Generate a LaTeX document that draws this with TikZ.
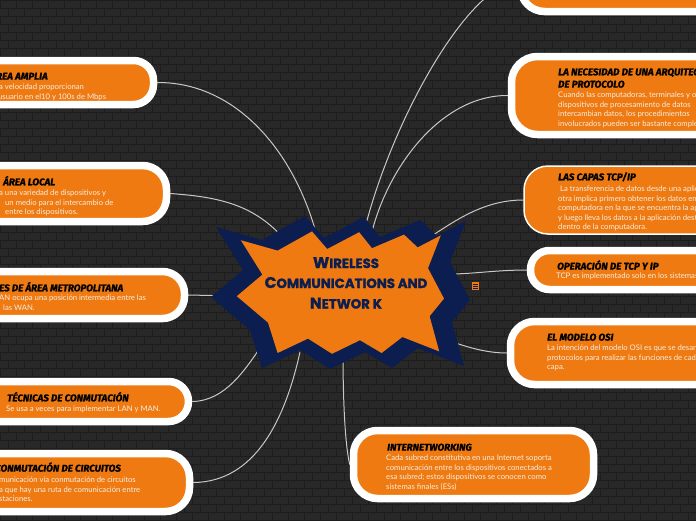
\documentclass[tikz,border=0pt]{standalone}
\usepackage{fontspec}
\setmainfont{Lato}
\newfontfamily\ttlfont{Fira Sans}[BoldItalicFeatures={FakeBold=1.2}]
\newfontfamily\hubfont{Poppins}[BoldFeatures={FakeBold=1.5}]
\definecolor{orng}{HTML}{EE7A11}
\definecolor{navy}{HTML}{0C1D4F}
\definecolor{bgc}{HTML}{282828}
\definecolor{mortar}{HTML}{1D1D1D}
\definecolor{wire}{HTML}{C8C8C8}
\definecolor{bodytxt}{HTML}{F8EEE2}
\pgfdeclarelayer{bg}
\pgfdeclarelayer{lines}
\pgfsetlayers{bg,lines,main}
\newcommand\burstpath{(211,297) -- (243,270) -- (216,227) -- (262,240) -- (305,216) -- (324,238) -- (364,217) -- (380,237) -- (420,220) -- (437,236) -- (466,221) -- (450,262) -- (470,300) -- (452,322) -- (464,366) -- (418,348) -- (392,368) -- (365,352) -- (330,369) -- (300,350) -- (262,368) -- (250,330) -- cycle}
\begin{document}
\begin{tikzpicture}[x=1pt,y=-1pt,
  pill/.style={draw=white,line width=7.5pt,fill=orng,rounded corners=20pt,inner sep=0pt},
  thinpill/.style={draw=white,line width=1.5pt,fill=orng,rounded corners=24pt,inner sep=0pt},
  ttl/.style={font=\ttlfont\bfseries\itshape\fontsize{9.8}{11}\selectfont,text=black,inner sep=0pt,anchor=base west},
  body/.style={font=\fontsize{7.7}{9.5}\selectfont,text=bodytxt,inner sep=0pt,anchor=base west},
  wirestyle/.style={draw=wire,line width=1pt},
  hubtxt/.style={font=\hubfont\bfseries\fontsize{13.3}{16}\selectfont,text=navy,inner sep=0pt,anchor=base}]
\useasboundingbox (0,0) rectangle (696,520);
\begin{pgfonlayer}{bg}
  \fill[bgc] (0,0) rectangle (696,520);
  \draw[mortar,line width=0.9pt] \foreach \r in {0,...,65} {(0,\r*8) -- (696,\r*8)};
  \draw[mortar,line width=0.9pt] \foreach \r in {0,...,64} {\foreach \c in {0,...,44} {({\c*16+mod(\r,2)*8},{\r*8}) -- ++(0,8)}};
\end{pgfonlayer}

% central starburst
\fill[navy] \burstpath;
\begin{scope}[shift={(340,293)},scale=0.8,shift={(-340,-293)}]
  \fill[orng] \burstpath;
\end{scope}
\node[hubtxt] (hub1) at (346,268) {{\fontsize{15.5}{16}\selectfont W}IRELESS};
\node[hubtxt] (hub2) at (346,288) {{\fontsize{15.5}{16}\selectfont C}OMMUNICATIONS AND};
\node[hubtxt] (hub3) at (346,308.5) {{\fontsize{15.5}{16}\selectfont N}ETWOR K};
\node[fill=orng,minimum width=7pt,minimum height=8pt,inner sep=0pt] (icon) at (475.5,286) {};
\draw[navy,line width=0.7pt] (473,284) -- (478,284) (473,286) -- (478,286) (473,288) -- (478,288);

% hub end points
\coordinate (h1) at (318,240);
\coordinate (h2) at (285,240);
\coordinate (h3) at (235,296);
\coordinate (h4) at (262,345);
\coordinate (h5) at (300,352);
\coordinate (hb) at (343,352);
\coordinate (hr0) at (362,240);
\coordinate (hr1) at (370,240);
\coordinate (hr2) at (425,240);
\coordinate (hr3) at (455,274);
\coordinate (hr4) at (425,332);

% pills
\node[pill,minimum width=190pt,minimum height=44pt] (n1) at (58.5,82.5) {};
\node[pill,minimum width=203pt,minimum height=56pt,rounded corners=24pt] (n2) at (65,193.5) {};
\node[pill,minimum width=221pt,minimum height=47pt,rounded corners=22pt] (n3) at (74,295) {};
\node[pill,minimum width=225pt,minimum height=40pt] (n4) at (76,401.5) {};
\node[pill,minimum width=226pt,minimum height=58pt,rounded corners=24pt] (n5) at (76.5,482.5) {};
\node[pill,minimum width=236pt,minimum height=58pt,rounded corners=24pt] (r0) at (638.5,-17.5) {};
\node[pill,minimum width=245pt,minimum height=78pt,rounded corners=26pt] (r1) at (634,95.5) {};
\node[thinpill,minimum width=235pt,minimum height=68pt] (r2) at (641.5,200) {};
\node[pill,minimum width=226pt,minimum height=39pt,rounded corners=19pt] (r3) at (643.5,270) {};
\node[pill,minimum width=246pt,minimum height=63pt,rounded corners=24pt] (r4) at (633.5,353) {};
\node[pill,minimum width=240pt,minimum height=68pt,rounded corners=24pt] (b) at (473.5,464.5) {};

% titles
\node[ttl] (t1) at (-4,79.6) {REA AMPLIA};
\node[ttl] (t2) at (3,185.3) {ÁREA LOCAL};
\node[ttl] (t3) at (-1,291.3) {ES DE ÁREA METROPOLITANA};
\node[ttl] (t4) at (7,401.3) {TÉCNICAS DE CONMUTACIÓN};
\node[ttl] (t5) at (-5,471.6) {CONMUTACIÓN DE CIRCUITOS};
\node[ttl] (tr1a) at (558,75.3) {LA NECESIDAD DE UNA ARQUITECTURA};
\node[ttl] (tr1b) at (558,87.6) {DE PROTOCOLO};
\node[ttl] (tr2) at (558,180.3) {LAS CAPAS TCP/IP};
\node[ttl] (tr3) at (557,269.6) {OPERACIÓN DE TCP Y IP};
\node[ttl] (tr4) at (547,340.6) {EL MODELO OSI};
\node[ttl] (tb) at (387,450.6) {INTERNETWORKING};

% body texts
\node[body] (d1a) at (-1,89.5) {a velocidad proporcionan};
\node[body] (d1b) at (-2,99.2) {usuario en el10 y 100s de Mbps};
\node[body] (d2a) at (-1,195.5) {a una variedad de dispositivos y};
\node[body] (d2b) at (5,205.3) {un medio para el intercambio de};
\node[body] (d2c) at (5,214.8) {entre los dispositivos.};
\node[body] (d3a) at (-1,300.5) {AN ocupa una posición intermedia entre las};
\node[body] (d3b) at (3,310) {las WAN.};
\node[body] (d4a) at (6,411.5) {Se usa a veces para implementar LAN y MAN.};
\foreach \t [count=\i] in {{municación vía conmutación de circuitos},{a que hay una ruta de comunicación entre},{staciones.}}
  \node[body] (d5\i) at (-1,{482.5+(\i-1)*9.5}) {\t};
\foreach \t [count=\i] in {{Cuando las computadoras, terminales y otros},{dispositivos de procesamiento de datos},{intercambian datos, los procedimientos},{involucrados pueden ser bastante complejos.}}
  \node[body] (e1\i) at (558,{97.5+(\i-1)*9.6}) {\t};
\foreach \t [count=\i] in {{\ La transferencia de datos desde una aplicación a},{otra implica primero obtener los datos en la},{computadora en la que se encuentra la aplicación},{y luego lleva los datos a la aplicación destino},{dentro de la computadora.}}
  \node[body] (e2\i) at (558,{191.5+(\i-1)*9.6}) {\t};
\node[body] (e31) at (556,278.5) {TCP es implementado solo en los sistemas finales};
\foreach \t [count=\i] in {{La intención del modelo OSI es que se desarrollen},{protocolos para realizar las funciones de cada},{capa.}}
  \node[body] (e4\i) at (547,{350.5+(\i-1)*9.6}) {\t};
\foreach \t [count=\i] in {{Cada subred constitutiva en una Internet soporta},{comunicación entre los dispositivos conectados a},{esa subred; estos dispositivos se conocen como},{sistemas finales (ESs)}}
  \node[body] (f\i) at (386,{460.5+(\i-1)*9.5}) {\t};

% connectors
\begin{pgfonlayer}{lines}
  \draw[wirestyle] (n1.east) .. controls (235,82) and (295,150) .. (h1);
  \draw[wirestyle] (n2.east) .. controls (220,197) and (255,205) .. (h2);
  \draw[wirestyle] (n3.east) -- (h3);
  \draw[wirestyle] (n4.east) .. controls (225,401) and (245,370) .. (h4);
  \draw[wirestyle] (n5.east) .. controls (255,482) and (285,420) .. (h5);
  \draw[wirestyle] (b.west) .. controls (345,445) and (343,400) .. (hb);
  \draw[wirestyle] (r0.west) .. controls (470,-17) and (390,120) .. (hr0);
  \draw[wirestyle] (r1.west) .. controls (440,95) and (385,170) .. (hr1);
  \draw[wirestyle] (r2.west) .. controls (480,200) and (450,225) .. (hr2);
  \draw[wirestyle] (r3.west) .. controls (500,270) and (480,273) .. (hr3);
  \draw[wirestyle] (r4.west) .. controls (480,353) and (455,343) .. (hr4);
\end{pgfonlayer}
\end{tikzpicture}
\end{document}
